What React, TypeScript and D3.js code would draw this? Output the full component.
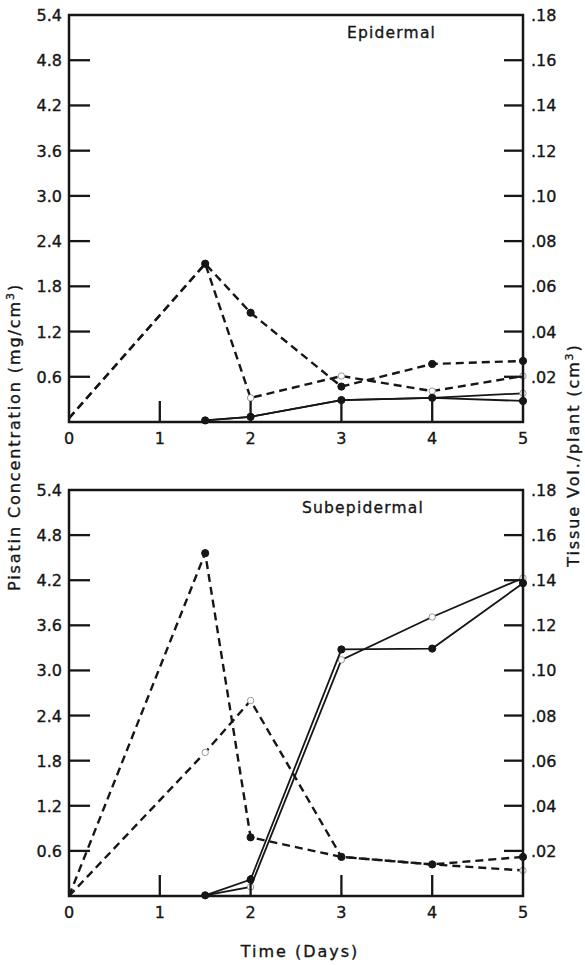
import React from "react";
import * as d3 from "d3";

// days sampled
const days = [0, 1.5, 2, 3, 4, 5];
const volDays = [1.5, 2, 3, 4, 5];

// Epidermal panel
const epiPisatinInoc = [0.05, 2.1, 1.45, 0.47, 0.77, 0.81];
const epiPisatinCtrl = [0.05, 2.1, 0.32, 0.61, 0.41, 0.61];
const epiVolInoc = [0.0007, 0.0023, 0.0097, 0.0107, 0.0093];
const epiVolCtrl = [0.0007, 0.0023, 0.0097, 0.0107, 0.0127];

// Subepidermal panel
const subPisatinInoc = [0, 4.56, 0.78, 0.52, 0.42, 0.52];
const subPisatinCtrl = [0, 1.91, 2.6, 0.52, 0.42, 0.34];
const subVolInoc = [0.0003, 0.0073, 0.1093, 0.1097, 0.1387];
const subVolCtrl = [0.0003, 0.004, 0.1047, 0.1237, 0.141];

const leftTicks = [0.6, 1.2, 1.8, 2.4, 3.0, 3.6, 4.2, 4.8, 5.4];
const rightTicks = [0.02, 0.04, 0.06, 0.08, 0.1, 0.12, 0.14, 0.16, 0.18];
const dayTicks = [0, 1, 2, 3, 4, 5];

const FONT = "'DejaVu Sans', sans-serif";
const INK = "#161616";
// slight outline so the type reads as heavy as the scanned original
const txt = { fontFamily: FONT, fill: INK, stroke: INK, strokeWidth: 0.35 };

const x = d3.scaleLinear().domain([0, 5]).range([69, 523]);

type Series = { xs: number[]; ys: number[]; filled: boolean; dashed: boolean; right: boolean };

function Panel({ top, bottom, title, titleX, series }: { top: number; bottom: number; title: string; titleX: number; series: Series[] }) {
  const yL = d3.scaleLinear().domain([0, 5.4]).range([bottom, top]);
  const yR = d3.scaleLinear().domain([0, 0.18]).range([bottom, top]);
  const x0 = x(0);
  const x5 = x(5);

  return (
    <g>
      {series.map((s, i) => {
        const y = s.right ? yR : yL;
        const pts = s.xs.map((d, j) => [x(d), y(s.ys[j])] as [number, number]);
        const line = d3.line();
        return (
          <g key={i}>
            <path
              d={line(pts) || ""}
              fill="none"
              stroke={INK}
              strokeWidth={s.dashed ? 2.4 : 1.8}
              strokeDasharray={s.dashed ? "8 5" : undefined}
            />
            {pts.map((p, j) =>
              s.xs[j] === 0 ? null : (
                <circle
                  key={j}
                  cx={p[0]}
                  cy={p[1]}
                  r={s.filled ? 3.6 : 3.2}
                  fill={s.filled ? INK : "#fff"}
                  stroke={s.filled ? INK : "#999"}
                  strokeWidth={1}
                />
              )
            )}
          </g>
        );
      })}

      {/* frame */}
      <rect x={x0} y={top} width={x5 - x0} height={bottom - top} fill="none" stroke={INK} strokeWidth={2.5} />

      {/* left ticks */}
      {leftTicks.map((t) => (
        <g key={"l" + t}>
          {t < 5.4 && <line x1={x0} x2={x0 + 21} y1={yL(t)} y2={yL(t)} stroke={INK} strokeWidth={2.3} />}
          <text x={62} y={yL(t) + 6} textAnchor="end" fontSize={16} {...txt}>
            {t.toFixed(1)}
          </text>
        </g>
      ))}

      {/* right ticks */}
      {rightTicks.map((t) => (
        <g key={"r" + t}>
          {t < 0.18 && <line x1={x5} x2={x5 - 19} y1={yR(t)} y2={yR(t)} stroke={INK} strokeWidth={2.3} />}
          <text x={531} y={yR(t) + 6} fontSize={16} {...txt}>
            {d3.format(".2f")(t).replace(/^0/, "")}
          </text>
        </g>
      ))}

      {/* day ticks */}
      {dayTicks.map((d) => (
        <g key={"d" + d}>
          {d > 0 && d < 5 && <line x1={x(d)} x2={x(d)} y1={bottom} y2={bottom - 21} stroke={INK} strokeWidth={2.3} />}
          <text x={x(d)} y={bottom + 22} textAnchor="middle" fontSize={16} {...txt}>
            {d}
          </text>
        </g>
      ))}

      <text x={titleX} y={top + 23} fontSize={15.5} letterSpacing={1.2} {...txt}>
        {title}
      </text>
    </g>
  );
}

export default function App() {
  const s = (xs: number[], ys: number[], filled: boolean, dashed: boolean, right: boolean): Series => ({ xs, ys, filled, dashed, right });
  return (
    <svg width={585} height={965} style={{ position: "absolute", left: 0, top: 0, background: "#fff" }}>
      <rect width={585} height={965} fill="#fff" />
      <Panel
        top={15}
        bottom={422}
        title="Epidermal"
        titleX={347}
        series={[
          s(days, epiPisatinCtrl, false, true, false),
          s(days, epiPisatinInoc, true, true, false),
          s(volDays, epiVolCtrl, false, false, true),
          s(volDays, epiVolInoc, true, false, true),
        ]}
      />
      <Panel
        top={490}
        bottom={896}
        title="Subepidermal"
        titleX={302}
        series={[
          s(days, subPisatinCtrl, false, true, false),
          s(days, subPisatinInoc, true, true, false),
          s(volDays, subVolCtrl, false, false, true),
          s(volDays, subVolInoc, true, false, true),
        ]}
      />
      <text transform="translate(20,437) rotate(-90)" textAnchor="middle" fontSize={16} letterSpacing={1.9} {...txt}>
        Pisatin Concentration (mg/cm<tspan dy={-6} fontSize={11}>3</tspan><tspan dy={6}>)</tspan>
      </text>
      <text transform="translate(579,455) rotate(-90)" textAnchor="middle" fontSize={16} letterSpacing={1.9} {...txt}>
        Tissue Vol./plant (cm<tspan dy={-6} fontSize={11}>3</tspan><tspan dy={6}>)</tspan>
      </text>
      <text x={300} y={957} textAnchor="middle" fontSize={16} letterSpacing={2} {...txt}>
        Time  (Days)
      </text>
    </svg>
  );
}
